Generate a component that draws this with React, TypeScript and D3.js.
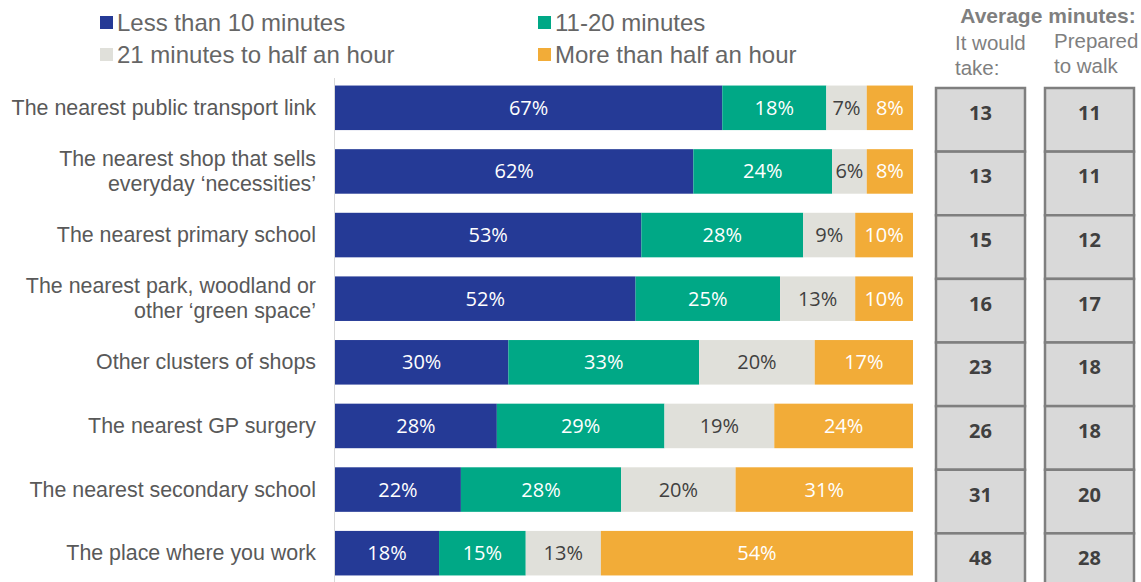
import React from "react";
import * as d3 from "d3";

const categories: string[][] = [
  ["The nearest public transport link"],
  ["The nearest shop that sells", "everyday \u2018necessities\u2019"],
  ["The nearest primary school"],
  ["The nearest park, woodland or", "other \u2018green space\u2019"],
  ["Other clusters of shops"],
  ["The nearest GP surgery"],
  ["The nearest secondary school"],
  ["The place where you work"],
];
const seriesNames = ["Less than 10 minutes", "11-20 minutes", "21 minutes to half an hour", "More than half an hour"];
const lessThan10 = [67, 62, 53, 52, 30, 28, 22, 18];
const min11to20 = [18, 24, 28, 25, 33, 29, 28, 15];
const min21to30 = [7, 6, 9, 13, 20, 19, 20, 13];
const moreThan30 = [8, 8, 10, 10, 17, 24, 31, 54];
const wouldTake = [13, 13, 15, 16, 23, 26, 31, 48];
const preparedToWalk = [11, 11, 12, 17, 18, 18, 20, 28];

const colors = ["#253a96", "#00a886", "#e0e0da", "#f2ac38"];
const textColors = ["#ffffff", "#ffffff", "#404040", "#ffffff"];

export default function App() {
  const W = 1141, H = 582;
  const x0 = 335, x1 = 913;
  const series = [lessThan10, min11to20, min21to30, moreThan30];
  const y = d3.scaleBand<number>().domain(d3.range(categories.length)).range([76, 585]).paddingInner(0.3).paddingOuter(0.15);
  const bw = y.bandwidth();
  const rowStep = y.step();
  const labelFont = "Liberation Sans, Arial, sans-serif";
  const numFont = "Open Sans, sans-serif";

  return (
    <svg width={W} height={H} style={{ position: "absolute", left: 0, top: 0 }}>
      <rect width={W} height={H} fill="#fff" />
      {/* legend */}
      {seriesNames.map((n, i) => {
        const lx = i % 2 === 0 ? 100 : 538;
        const ly = i < 2 ? 16 : 48;
        return (
          <g key={n}>
            <rect x={lx} y={ly} width={13} height={13} fill={colors[i]} />
            <text x={lx + 17} y={ly + 15} fontSize={24} fill="#666" fontFamily={labelFont}>{n}</text>
          </g>
        );
      })}
      {/* axis line */}
      <line x1={x0 - 0.5} x2={x0 - 0.5} y1={78} y2={582} stroke="#d9d9d9" strokeWidth={1} />
      {categories.map((cat, r) => {
        const total = d3.sum(series, (s) => s[r]);
        const xs = d3.scaleLinear().domain([0, total]).range([x0, x1]);
        let acc = 0;
        const yy = y(r)!;
        const cy = yy + bw / 2;
        return (
          <g key={r}>
            {series.map((s, i) => {
              const a = acc;
              acc += s[r];
              const xa = xs(a), xb = xs(acc);
              return (
                <g key={i}>
                  <rect x={xa} y={yy} width={xb - xa} height={bw} fill={colors[i]} />
                  <text x={(xa + xb) / 2} y={cy + 7} textAnchor="middle" fontSize={20} fill={textColors[i]} fontFamily={numFont}>
                    {s[r]}%
                  </text>
                </g>
              );
            })}
            {cat.map((line, li) => (
              <text key={li} x={316} y={cy + 7 + (li - (cat.length - 1) / 2) * 25} textAnchor="end" fontSize={21.4} fill="#595959" fontFamily={labelFont}>
                {line}
              </text>
            ))}
          </g>
        );
      })}
      {/* table headers */}
      <text x={1048} y={23} textAnchor="middle" fontSize={21} fontWeight="bold" fill="#7f7f7f" fontFamily={labelFont}>Average minutes:</text>
      <text x={955} y={50} fontSize={20.5} fill="#7f7f7f" fontFamily={labelFont}>It would</text>
      <text x={955} y={75} fontSize={20.5} fill="#7f7f7f" fontFamily={labelFont}>take:</text>
      <text x={1054} y={48} fontSize={20.5} fill="#7f7f7f" fontFamily={labelFont}>Prepared</text>
      <text x={1054} y={73} fontSize={20.5} fill="#7f7f7f" fontFamily={labelFont}>to walk</text>
      {[wouldTake, preparedToWalk].map((col, c) => {
        const cx = c === 0 ? 936 : 1045;
        const cw = 89;
        return (
          <g key={c}>
            {col.map((v, r) => {
              const top = 88 + r * rowStep;
              return (
                <g key={r}>
                  <rect x={cx} y={top} width={cw} height={rowStep} fill="#d9d9d9" stroke="#7f7f7f" strokeWidth={2.5} />
                  <text x={cx + cw / 2} y={top + rowStep / 2} textAnchor="middle" fontSize={20} fontWeight="bold" fill="#404040" fontFamily={numFont}>
                    {v}
                  </text>
                </g>
              );
            })}
          </g>
        );
      })}
    </svg>
  );
}
